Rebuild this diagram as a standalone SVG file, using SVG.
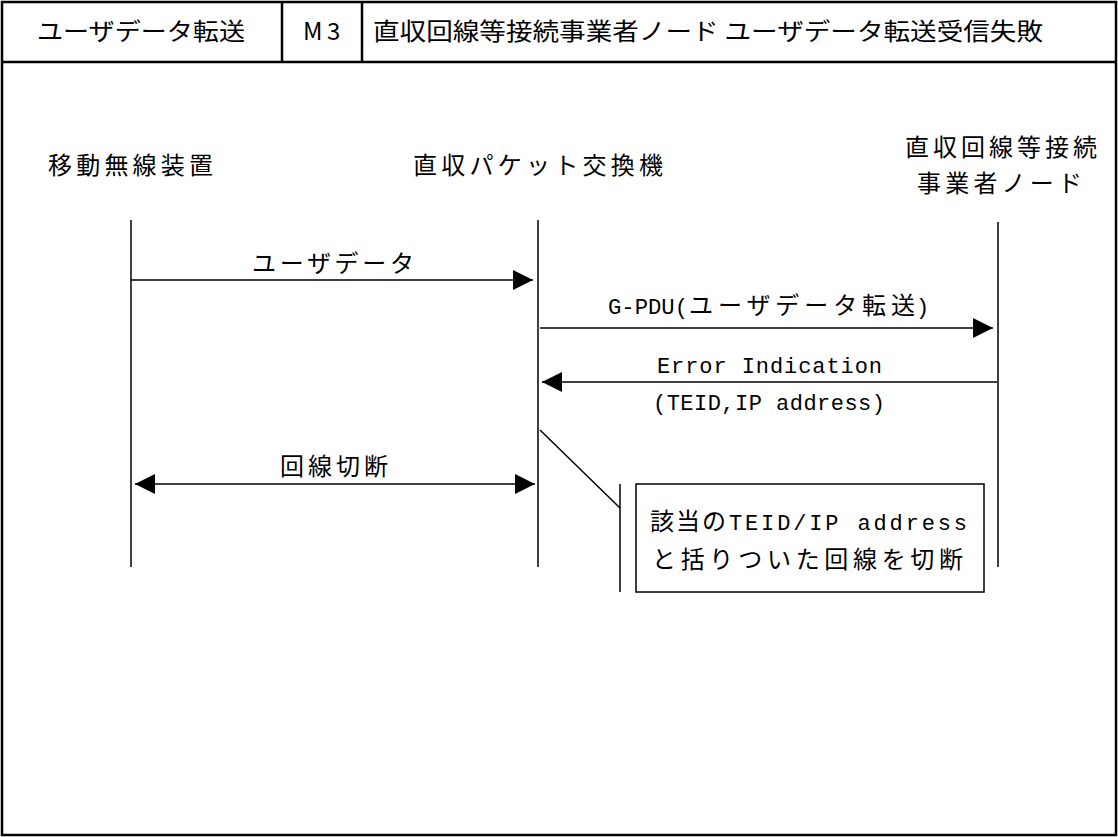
<svg xmlns="http://www.w3.org/2000/svg" width="1118" height="837" viewBox="0 0 1118 837">
<style>
.jp{font-family:"Noto Sans CJK JP","Noto Sans",sans-serif;font-size:24px;fill:#000}
.mono{font-family:"Liberation Mono","Noto Sans CJK JP",monospace;font-size:22px;fill:#000}
.frame{fill:none;stroke:#000;stroke-width:2.5}
.life{stroke:#000;stroke-width:1.5;fill:none}
.msg{stroke:#000;stroke-width:1.5;fill:none}
</style>
<defs>
<marker id="ah" viewBox="0 0 20 20" refX="20" refY="10" markerWidth="20" markerHeight="20" markerUnits="userSpaceOnUse" orient="auto-start-reverse">
<path d="M0,0 L20,10 L0,20 Z" fill="#000"/>
</marker>
</defs>
<rect width="1118" height="837" fill="#fff"/>
<g id="frame">
<rect class="frame" x="2" y="2" width="1114" height="833"/>
<line class="frame" x1="2" y1="62" x2="1116" y2="62"/>
<line class="frame" x1="282" y1="2" x2="282" y2="62"/>
<line class="frame" x1="362" y1="2" x2="362" y2="62"/>
<text class="jp" x="37" y="40" textLength="208" lengthAdjust="spacingAndGlyphs">ユーザデータ転送</text>
<text class="jp" x="303" y="40">M</text>
<text class="jp" x="327" y="40">3</text>
<text class="jp" x="373" y="40" textLength="670" lengthAdjust="spacingAndGlyphs">直収回線等接続事業者ノード ユーザデータ転送受信失敗</text>
</g>
<g id="node-mobile">
<text class="jp" x="48" y="174" textLength="165" lengthAdjust="spacing">移動無線装置</text>
<line class="life" x1="131" y1="220" x2="131" y2="567"/>
</g>
<g id="node-switch">
<text class="jp" x="413" y="174" textLength="250" lengthAdjust="spacing">直収パケット交換機</text>
<line class="life" x1="538" y1="220" x2="538" y2="567"/>
</g>
<g id="node-carrier">
<text class="jp" x="905" y="156" textLength="192" lengthAdjust="spacing">直収回線等接続</text>
<text class="jp" x="917" y="192" textLength="165" lengthAdjust="spacing">事業者ノード</text>
<line class="life" x1="998" y1="222" x2="998" y2="567"/>
</g>
<g id="connectors">
<line class="msg" x1="131" y1="280" x2="533" y2="280" marker-end="url(#ah)"/>
<line class="msg" x1="540" y1="328" x2="993" y2="328" marker-end="url(#ah)"/>
<line class="msg" x1="997" y1="382" x2="542" y2="382" marker-end="url(#ah)"/>
<line class="msg" x1="135" y1="484" x2="535" y2="484" marker-start="url(#ah)" marker-end="url(#ah)"/>
<line class="life" x1="540" y1="430" x2="620" y2="508"/>
<line class="life" x1="620" y1="484" x2="620" y2="592"/>
</g>
<g id="labels">
<text class="jp" x="252" y="272" textLength="162" lengthAdjust="spacing">ユーザデータ</text>
<text x="608" y="314"><tspan class="mono" textLength="80" lengthAdjust="spacingAndGlyphs">G-PDU(</tspan><tspan class="jp" x="689" textLength="226" lengthAdjust="spacing">ユーザデータ転送</tspan><tspan class="mono" x="916">)</tspan></text>
<text class="mono" x="657" y="373" textLength="225" lengthAdjust="spacing">Error Indication</text>
<text class="mono" x="653" y="410" textLength="232" lengthAdjust="spacing">(TEID,IP address)</text>
<text class="jp" x="280" y="475" textLength="108" lengthAdjust="spacing">回線切断</text>
</g>
<g id="note">
<rect x="636" y="484" width="348" height="108" fill="#fff" stroke="#000" stroke-width="1.5"/>
<text x="650" y="530"><tspan class="jp" textLength="76" lengthAdjust="spacing">該当の</tspan><tspan class="mono" x="729" textLength="238" lengthAdjust="spacing">TEID/IP address</tspan></text>
<text class="jp" x="652" y="568" textLength="311" lengthAdjust="spacing">と括りついた回線を切断</text>
</g>
</svg>
